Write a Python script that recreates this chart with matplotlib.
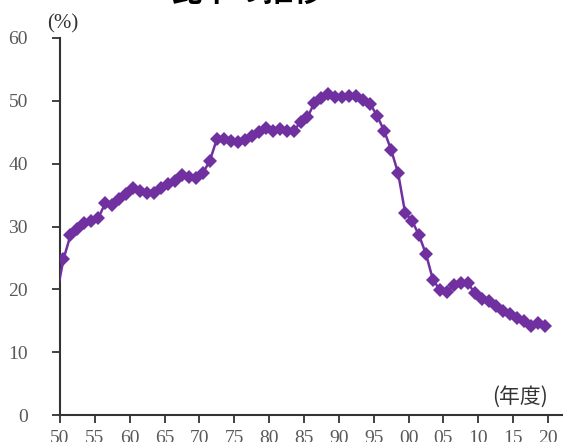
import matplotlib
matplotlib.use("Agg")
import matplotlib.pyplot as plt
import numpy as np

years = list(range(1949, 2020))
values = [19.0,
          24.8, 28.6, 29.6, 30.5, 30.8, 31.4, 33.7, 33.4, 34.3, 35.2,
          36.2, 35.6, 35.3, 35.3, 36.2, 36.8, 37.3, 38.2, 37.9, 37.7,
          38.5, 40.5, 43.9, 43.9, 43.6, 43.4, 43.7, 44.4, 45.0, 45.7,
          45.2, 45.5, 45.2, 45.2, 46.6, 47.4, 49.7, 50.5, 51.1, 50.6,
          50.6, 50.8, 50.8, 50.1, 49.5, 47.6, 45.2, 42.2, 38.5, 32.2,
          30.9, 28.6, 25.6, 21.5, 19.9, 19.6, 20.7, 21.0, 21.0, 19.4,
          18.5, 18.1, 17.3, 16.6, 16.1, 15.4, 15.0, 14.2, 14.6, 14.2]
xticks = list(range(1950, 2021, 5))
xticklabels = [f"{y % 100:02d}" for y in xticks]
yticks = [0, 10, 20, 30, 40, 50, 60]
title = "比率の推移"

W, H = 563, 442
fig = plt.figure(figsize=(W / 100, H / 100), dpi=100)
ax = fig.add_axes([60 / W, 1 - 415 / H, 1 - 60 / W, (415 - 38) / H])

color = "#7030A0"
xs = np.array(years) + 0.5
ax.plot(xs, values, color=color, lw=1.8, marker="D", markersize=7,
        markeredgewidth=0, markevery=list(range(1, len(values))), zorder=3)

ax.set_xlim(1950, 2022.15)
ax.set_ylim(0, 60)
ax.spines["top"].set_visible(False)
ax.spines["right"].set_visible(False)
for s in ("left", "bottom"):
    ax.spines[s].set_linewidth(1.5)
    ax.spines[s].set_color("#333333")

ax.set_xticks(xticks)
ax.set_xticklabels(xticklabels)
ax.set_yticks(yticks)
ax.tick_params(axis="both", direction="out", length=6, width=1.3,
               color="#333333", labelcolor="#595959", labelsize=14)
ax.tick_params(axis="y", pad=17)
ax.tick_params(axis="x", pad=5)
for lab in ax.get_xticklabels() + ax.get_yticklabels():
    lab.set_family("Liberation Serif")

fig.text(47 / W, 1 - 24 / H, "(%)", fontsize=15, color="#333333",
         family="Liberation Serif", ha="left", va="center")
fig.text(548 / W, 1 - 397 / H, "(年度)", fontsize=15, color="#333333",
         family=["Noto Sans CJK JP", "DejaVu Sans"], ha="right", va="center")
fig.text(172 / W, 1 + 8 / H, title, fontsize=22, fontweight="bold",
         family=["Noto Sans CJK JP", "DejaVu Sans"], ha="left", va="center")

fig.savefig("out.png", dpi=100)
